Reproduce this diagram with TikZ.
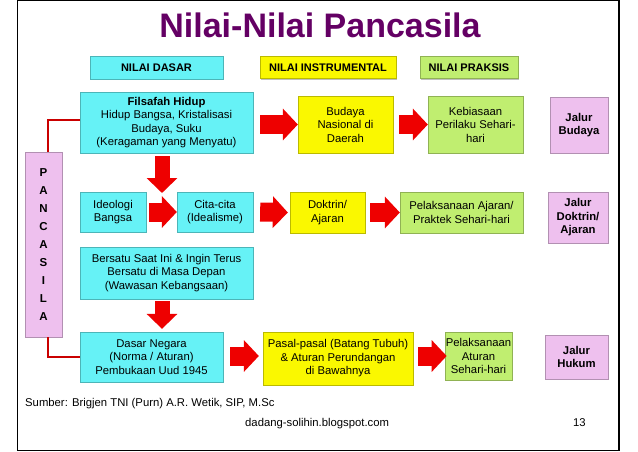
\documentclass[tikz,border=0pt]{standalone}
\usepackage{fontspec}
\setmainfont{Liberation Sans}
\usetikzlibrary{arrows.meta,shadows}
\definecolor{bcyan}{RGB}{102,242,246}
\definecolor{byellow}{RGB}{250,248,0}
\definecolor{bgreen}{RGB}{192,238,112}
\definecolor{bpink}{RGB}{238,192,238}
\definecolor{ared}{RGB}{238,0,0}
\definecolor{tpurple}{RGB}{100,0,100}
\begin{document}
\begin{tikzpicture}[x=1pt,y=-1pt,
  box/.style={draw=#1!75!black, line width=0.3pt, fill=#1, align=center, inner sep=1pt,
    font=\fontsize{11.3}{13.5}\selectfont,
    drop shadow={shadow xshift=1.3pt, shadow yshift=-1.3pt, fill=black, opacity=0.25}},
  hdr/.style={box=#1, font=\bfseries\fontsize{11}{13}\selectfont},
  jalur/.style={box=bpink, font=\bfseries\fontsize{11.3}{13.5}\selectfont},
  harrow/.style={draw=ared, line width=19pt, -{Triangle[length=15pt,width=31pt]}},
  varrow/.style={draw=ared, line width=15pt, -{Triangle[length=15pt,width=30pt]}},
  link/.style={draw=ared!85!black, line width=2pt},
  plain/.style={font=\fontsize{11.3}{13.5}\selectfont, inner sep=0pt}
]
\useasboundingbox (0,0) rectangle (638,452);
\draw[line width=1.1pt] (17.5,0.5) rectangle (619,450.5);

\node[font=\bfseries\fontsize{34}{40}\selectfont, text=tpurple, anchor=base, inner sep=0pt] (title) at (320,38) {Nilai-Nilai Pancasila};

% header boxes
\node[hdr=bcyan, minimum width=133pt, minimum height=23pt] (hdasar) at (156.5,67.5) {NILAI DASAR};
\node[hdr=byellow, minimum width=136pt, minimum height=22pt] (hinstr) at (328,67.5) {NILAI INSTRUMENTAL};
\node[hdr=bgreen, minimum width=98pt, minimum height=22pt] (hpraksis) at (469,67.5) {NILAI PRAKSIS};

% row 1
\node[box=bcyan, minimum width=173pt, minimum height=61pt] (filsafah) at (166.5,122.5)
  {\textbf{Filsafah Hidup}\\Hidup Bangsa, Kristalisasi\\Budaya, Suku\\(Keragaman yang Menyatu)};
\node[box=byellow, minimum width=95pt, minimum height=57pt] (budaya) at (345.5,124.5)
  {Budaya\\Nasional di\\Daerah};
\node[box=bgreen, minimum width=95pt, minimum height=57pt] (kebiasaan) at (475.5,124.5)
  {Kebiasaan\\Perilaku Sehari-\\hari};
\node[jalur, minimum width=58pt, minimum height=56pt] (jbudaya) at (579,125) {Jalur\\Budaya};

% row 2
\node[box=bcyan, minimum width=66pt, minimum height=40pt] (ideologi) at (113,212) {Ideologi\\Bangsa};
\node[box=bcyan, minimum width=76pt, minimum height=40pt] (cita) at (215,212) {Cita-cita\\(Idealisme)};
\node[box=byellow, minimum width=75pt, minimum height=41pt] (doktrin) at (327.5,212.5) {Doktrin/\\Ajaran};
\node[box=bgreen, minimum width=123pt, minimum height=41pt] (pelajaran) at (461.5,212.5)
  {Pelaksanaan Ajaran/\\Praktek Sehari-hari};
\node[jalur, minimum width=60pt, minimum height=51pt] (jdoktrin) at (578,217.5) {Jalur\\Doktrin/\\Ajaran};

% row 3
\node[box=bcyan, minimum width=173pt, minimum height=52pt] (bersatu) at (166.5,273)
  {Bersatu Saat Ini \& Ingin Terus\\Bersatu di Masa Depan\\(Wawasan Kebangsaan)};

% row 4
\node[box=bcyan, minimum width=143pt, minimum height=50pt] (dasar) at (151.5,357)
  {Dasar Negara\\(Norma / Aturan)\\Pembukaan Uud 1945};
\node[box=byellow, minimum width=150pt, minimum height=53pt] (pasal) at (338,358.5)
  {Pasal-pasal (Batang Tubuh)\\\& Aturan Perundangan\\di Bawahnya};
\node[box=bgreen, minimum width=67pt, minimum height=48pt] (pelaturan) at (478.5,356)
  {Pelaksanaan\\Aturan\\Sehari-hari};
\node[jalur, minimum width=63pt, minimum height=44pt] (jhukum) at (576.5,357) {Jalur\\Hukum};

% PANCASILA
\node[box=bpink, minimum width=37pt, minimum height=185pt, font=\bfseries\fontsize{11.5}{18.1}\selectfont] (pancasila) at (43.5,244.5)
  {P\\A\\N\\C\\A\\S\\I\\L\\A};

% links
\draw[link] ([xshift=4.5pt]pancasila.north) |- ([yshift=2.5pt]filsafah.west);
\draw[link] ([xshift=4.5pt]pancasila.south) |- (dasar.west);

% arrows
\coordinate (t1) at (162,193);
\draw[harrow] ([xshift=7pt]filsafah.east |- budaya.west) -- (budaya.west);
\draw[harrow] ([xshift=6pt]budaya.east) -- (kebiasaan.west);
\draw[varrow] ([yshift=-3pt]t1 |- filsafah.south) -- (t1);
\draw[harrow] ([xshift=3pt]ideologi.east) -- (cita.west);
\draw[harrow] ([xshift=7pt]cita.east) -- ([xshift=-2pt]doktrin.west);
\draw[harrow] ([xshift=5pt]doktrin.east) -- (pelajaran.west);
\draw[varrow] ([xshift=-4.5pt,yshift=-2pt]bersatu.south) -- ([xshift=10.5pt,yshift=3pt]dasar.north);
\draw[harrow] ([xshift=7pt]dasar.east |- pelaturan.west) -- ([xshift=-4pt]pasal.west |- pelaturan.west);
\draw[harrow] ([xshift=5pt]pasal.east |- pelaturan.west) -- ([xshift=2pt]pelaturan.west);

% footer
\node[plain, anchor=base west] (sumber) at (25,406.5) {Sumber: Brigjen TNI (Purn) A.R. Wetik, SIP, M.Sc};
\node[plain, anchor=base west] (blog) at (245,426) {dadang-solihin.blogspot.com};
\node[plain, anchor=base west] (page) at (573,426) {13};
\end{tikzpicture}
\end{document}
